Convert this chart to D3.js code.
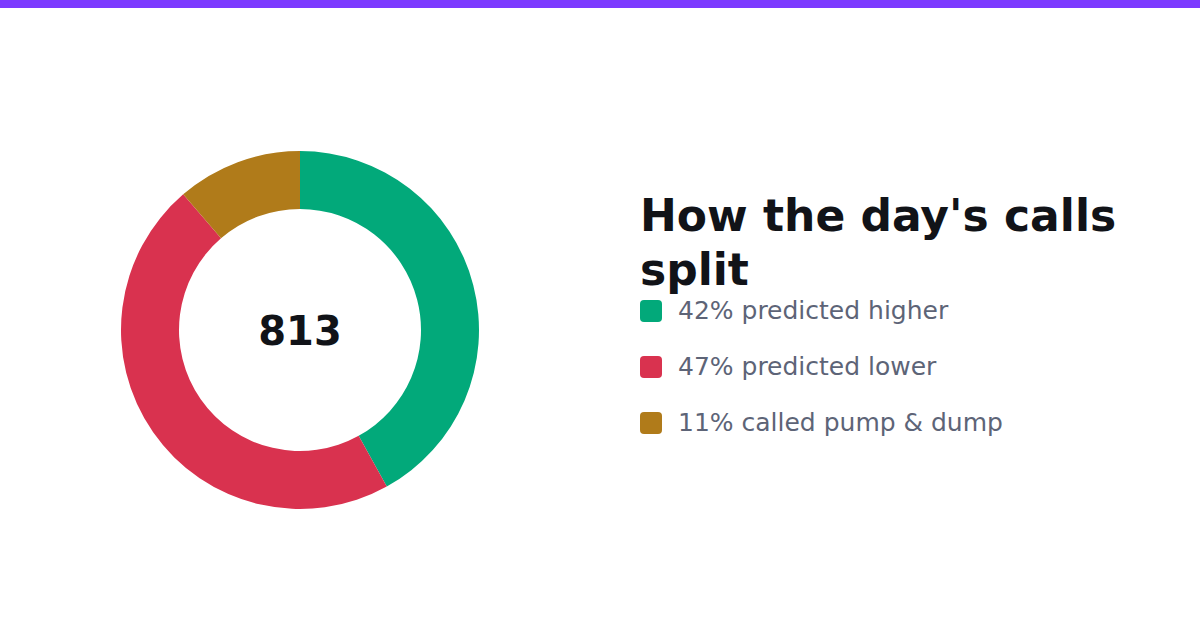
<!DOCTYPE html>
<html>
<head>
<meta charset="utf-8">
<script src="https://cdn.jsdelivr.net/npm/d3@7"></script>
<style>
  html, body { margin: 0; padding: 0; background: #fff; }
  svg { display: block; font-family: "DejaVu Sans", sans-serif; }
</style>
</head>
<body>
<div id="chart"></div>
<script>
var width = 1200;
var height = 630;

// data (counts)
var labels = ["predicted higher", "predicted lower", "called pump & dump"];
var counts = [341, 380, 92];
var colors = ["#02a97a", "#d9324f", "#b07b1a"];
var titleLines = ["How the day's calls", "split"];

var total = d3.sum(counts);

var cx = 300, cy = 330;
var outerR = 179, innerR = 121;

var svg = d3.select("#chart").append("svg")
    .attr("width", width)
    .attr("height", height);

// purple strip at the top
svg.append("rect")
    .attr("x", 0).attr("y", 0)
    .attr("width", width).attr("height", 8)
    .attr("fill", "#7c3aff");

var pie = d3.pie()
    .sort(null)
    .value(function(d) { return d; });

var arc = d3.arc()
    .innerRadius(innerR)
    .outerRadius(outerR);

var donut = svg.append("g")
    .attr("transform", "translate(" + cx + "," + cy + ")");

donut.selectAll("path")
    .data(pie(counts))
    .enter().append("path")
    .attr("d", arc)
    .attr("fill", function(d, i) { return colors[i]; });

donut.append("text")
    .attr("x", 0)
    .attr("y", 15)
    .attr("text-anchor", "middle")
    .attr("font-size", 40)
    .attr("font-weight", "bold")
    .attr("fill", "#111318")
    .text(total);

// title
var title = svg.append("text")
    .attr("x", 640)
    .attr("y", 231)
    .attr("font-size", 44)
    .attr("font-weight", "bold")
    .attr("fill", "#111318");

title.selectAll("tspan")
    .data(titleLines)
    .enter().append("tspan")
    .attr("x", 640)
    .attr("dy", function(d, i) { return i ? 54 : 0; })
    .text(function(d) { return d; });

// legend
var rowY = d3.scalePoint()
    .domain(d3.range(labels.length))
    .range([311, 423]);

var legend = svg.selectAll("g.legend")
    .data(labels)
    .enter().append("g")
    .attr("class", "legend")
    .attr("transform", function(d, i) { return "translate(640," + rowY(i) + ")"; });

legend.append("rect")
    .attr("x", 0).attr("y", -11)
    .attr("width", 22).attr("height", 22)
    .attr("rx", 4)
    .attr("fill", function(d, i) { return colors[i]; });

legend.append("text")
    .attr("x", 38)
    .attr("y", 8)
    .attr("font-size", 25)
    .attr("fill", "#5d6477")
    .text(function(d, i) { return Math.round(100 * counts[i] / total) + "% " + d; });
</script>
</body>
</html>
